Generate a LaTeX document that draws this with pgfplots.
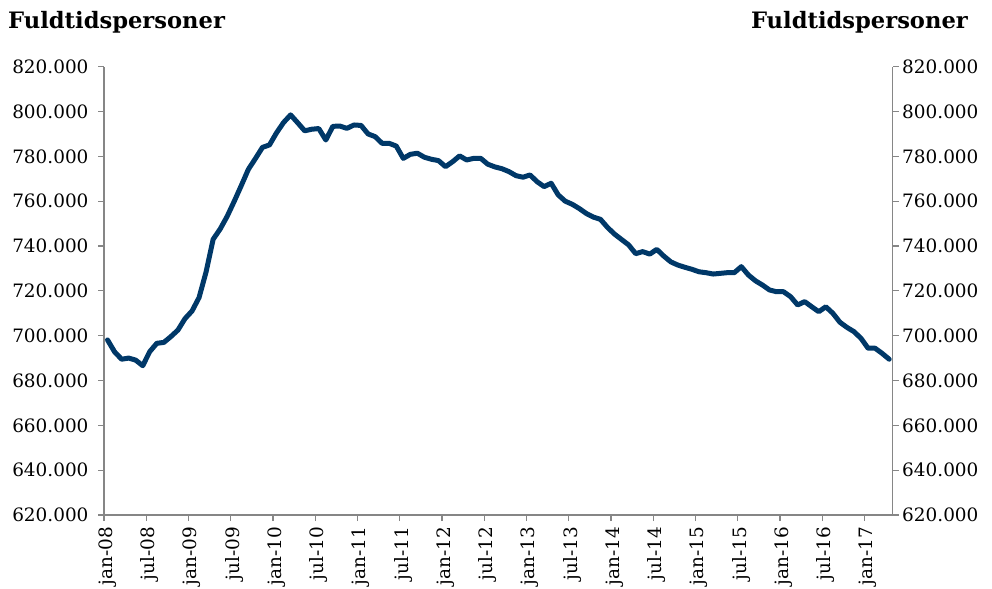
\documentclass[border=0pt]{standalone}
\usepackage{pgfplots}
\pgfplotsset{compat=1.18}
\usepackage{pgfplotstable}
\usepackage{fontspec}
\setmainfont{DejaVu Serif}
\definecolor{axgray}{RGB}{134,134,134}
\definecolor{navy}{RGB}{0,56,104}
\pgfplotstableread{
m v
0 698.1
1 692.8
2 689.5
3 690.0
4 689.1
5 686.6
6 692.9
7 696.6
8 697.0
9 699.6
10 702.5
11 707.6
12 711.0
13 717.0
14 728.5
15 743.0
16 747.6
17 753.3
18 760.0
19 767.0
20 774.2
21 779.0
22 784.0
23 785.1
24 790.5
25 795.1
26 798.5
27 795.0
28 791.4
29 792.1
30 792.4
31 787.3
32 793.4
33 793.5
34 792.5
35 794.0
36 793.8
37 790.0
38 788.8
39 785.8
40 785.8
41 784.6
42 779.1
43 780.9
44 781.4
45 779.6
46 778.7
47 778.1
48 775.4
49 777.6
50 780.2
51 778.4
52 779.1
53 779.1
54 776.5
55 775.3
56 774.5
57 773.2
58 771.4
59 770.7
60 771.7
61 768.7
62 766.5
63 768.0
64 762.8
65 760.0
66 758.6
67 756.7
68 754.5
69 752.9
70 751.9
71 748.3
72 745.3
73 742.9
74 740.5
75 736.6
76 737.5
77 736.4
78 738.5
79 735.5
80 732.9
81 731.5
82 730.5
83 729.6
84 728.5
85 728.1
86 727.5
87 727.8
88 728.1
89 728.1
90 730.8
91 727.1
92 724.5
93 722.6
94 720.4
95 719.6
96 719.6
97 717.4
98 713.7
99 715.2
100 712.9
101 710.7
102 712.9
103 710.0
104 706.0
105 703.7
106 701.8
107 698.8
108 694.4
109 694.4
110 692.1
111 689.5
}\datatable
\begin{document}
\begin{tikzpicture}
\pgfplotsset{
  every axis/.append style={
    scale only axis, width=788.7bp, height=448.3bp,
    xmin=-0.5, xmax=111.5, ymin=620, ymax=820,
    ytick={620,640,...,820},
    yticklabels={620.000,640.000,660.000,680.000,700.000,720.000,740.000,760.000,780.000,800.000,820.000},
    axis line style={axgray, line width=1.5bp},
    tick style={axgray, line width=1.3bp},
    major tick length=6bp,
    tick label style={font=\fontsize{18.5}{20}\selectfont, text=black},
  }
}
\begin{axis}[name=ax, axis x line*=bottom, axis y line*=left,
  tick align=outside,
  xtick={-0.5,5.5,...,107.5}, xticklabels={},
  yticklabel style={xshift=-6bp},
  clip=false]
\addplot[navy, line width=5bp, line join=round, line cap=round] table[x=m,y=v]{\datatable};
\end{axis}
\begin{axis}[axis x line*=bottom, axis y line*=right, tick align=outside,
  axis line style={draw=none},
  xtick={0,6,...,108},
  xticklabels={jan-08,jul-08,jan-09,jul-09,jan-10,jul-10,jan-11,jul-11,jan-12,jul-12,jan-13,jul-13,jan-14,jul-14,jan-15,jul-15,jan-16,jul-16,jan-17},
  x tick style={draw=none},
  xticklabel style={rotate=90, anchor=east, inner xsep=6bp},
  y axis line style={draw=axgray},
  ]
\addplot[draw=none] coordinates {(0,700)};
\end{axis}
\node[anchor=base west, inner sep=0pt, font=\fontsize{22.7}{26}\selectfont\bfseries] at ([xshift=-96bp, yshift=38.4bp]ax.north west) {Fuldtidspersoner};
\node[anchor=base east, inner sep=0pt, font=\fontsize{22.7}{26}\selectfont\bfseries] at ([xshift=75.3bp, yshift=37.7bp]ax.north east) {Fuldtidspersoner};
\pgfresetboundingbox
\path ([xshift=-104bp, yshift=-74bp]ax.south west) rectangle ([xshift=99.3bp, yshift=66.7bp]ax.north east);
\end{tikzpicture}
\end{document}
